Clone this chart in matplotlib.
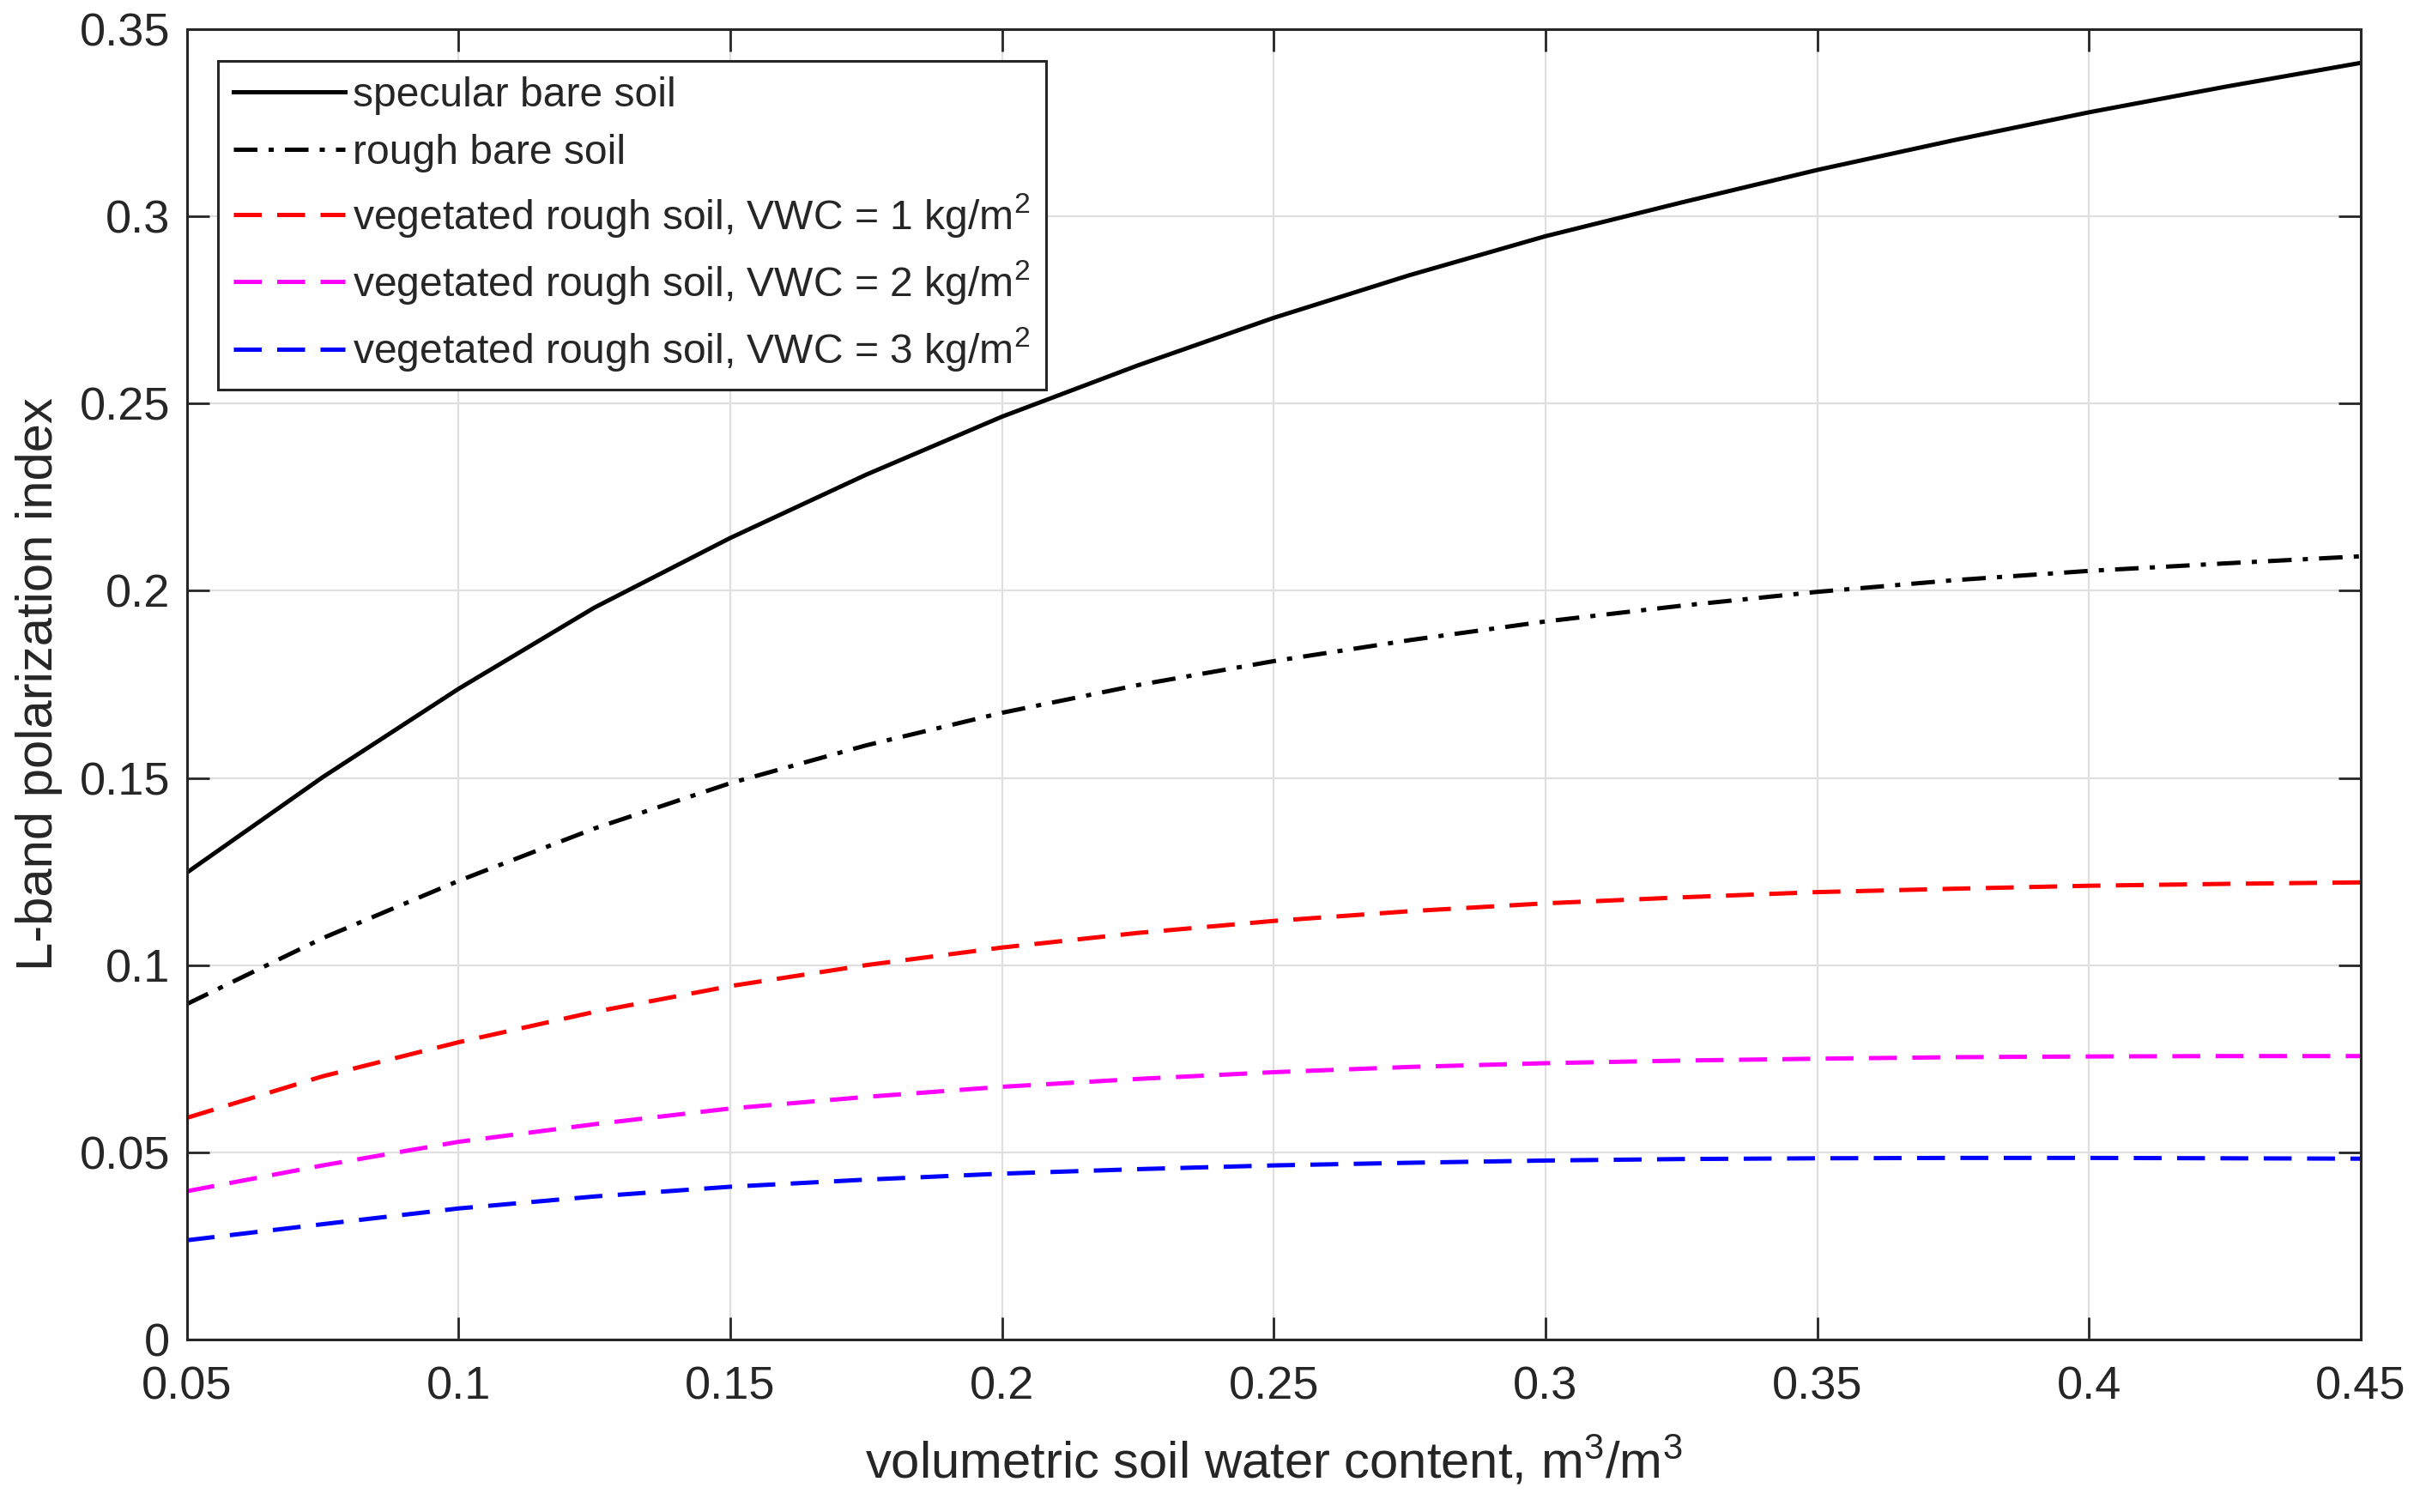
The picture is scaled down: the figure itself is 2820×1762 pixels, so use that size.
import matplotlib
matplotlib.use("Agg")
import matplotlib.pyplot as plt

plt.rcParams['font.family'] = ['Liberation Sans', 'DejaVu Sans']
plt.rcParams['mathtext.default'] = 'regular'

# soil moisture (m3/m3)
sm = [0.05, 0.075, 0.1, 0.125, 0.15, 0.175, 0.2, 0.225, 0.25, 0.275,
      0.3, 0.325, 0.35, 0.375, 0.4, 0.425, 0.45]

# polarization index
specular = [0.1247, 0.1502, 0.1738, 0.1955, 0.2141, 0.2310, 0.2465, 0.2602, 0.2729,
            0.2843, 0.2947, 0.3037, 0.3124, 0.3203, 0.3278, 0.3346, 0.3410]
rough = [0.0896, 0.1072, 0.1225, 0.1365, 0.1486, 0.1587, 0.1674, 0.1748, 0.1812,
         0.1868, 0.1918, 0.1960, 0.1997, 0.2028, 0.2053, 0.2073, 0.2092]
veg1 = [0.0592, 0.0703, 0.0794, 0.0875, 0.0944, 0.1000, 0.1047, 0.1086, 0.1118,
        0.1144, 0.1165, 0.1181, 0.1195, 0.1204, 0.1212, 0.1217, 0.1221]
veg2 = [0.0396, 0.0465, 0.0528, 0.0575, 0.0617, 0.0648, 0.0675, 0.0696, 0.0714,
        0.0728, 0.0738, 0.0745, 0.0750, 0.0754, 0.0756, 0.0757, 0.0757]
veg3 = [0.0265, 0.0308, 0.0350, 0.0382, 0.0408, 0.0427, 0.0443, 0.0455, 0.0465,
        0.0472, 0.0478, 0.0482, 0.0484, 0.0485, 0.0485, 0.0484, 0.0483]

labels = ['specular bare soil',
          'rough bare soil',
          'vegetated rough soil, VWC = 1 kg/m$^2$',
          'vegetated rough soil, VWC = 2 kg/m$^2$',
          'vegetated rough soil, VWC = 3 kg/m$^2$']

xticks = [0.05, 0.1, 0.15, 0.2, 0.25, 0.3, 0.35, 0.4, 0.45]
xticklabels = ['0.05', '0.1', '0.15', '0.2', '0.25', '0.3', '0.35', '0.4', '0.45']
yticks = [0, 0.05, 0.1, 0.15, 0.2, 0.25, 0.3, 0.35]
yticklabels = ['0', '0.05', '0.1', '0.15', '0.2', '0.25', '0.3', '0.35']

fig = plt.figure(figsize=(14.1, 8.81), dpi=200)
ax = fig.add_axes([0.0772, 0.1141, 0.8983, 0.8666])

lw = 1.8
ax.plot(sm, specular, color='black', lw=lw, ls='-', label=labels[0])
ax.plot(sm, rough, color='black', lw=lw, ls=(0, (5.5, 2.6, 1.2, 2.6)), label=labels[1])
ax.plot(sm, veg1, color='#ff0000', lw=lw, ls=(0, (6.5, 3.6)), label=labels[2])
ax.plot(sm, veg2, color='#ff00ff', lw=lw, ls=(0, (6.5, 3.6)), label=labels[3])
ax.plot(sm, veg3, color='#0000ff', lw=lw, ls=(0, (6.5, 3.6)), label=labels[4])

ax.set_xlim(0.05, 0.45)
ax.set_ylim(0, 0.35)
ax.set_xticks(xticks)
ax.set_xticklabels(xticklabels)
ax.set_yticks(yticks)
ax.set_yticklabels(yticklabels)

ax.grid(True, color='#dfdfdf', lw=0.8)
ax.set_axisbelow(True)
for s in ax.spines.values():
    s.set_color('#262626')
    s.set_linewidth(1.1)
ax.tick_params(direction='in', length=9.5, width=1.0, color='#262626',
               labelcolor='#262626', labelsize=19.5, top=True, right=True)
ax.tick_params(axis='x', pad=11)
ax.tick_params(axis='y', pad=7)

ax.set_xlabel('volumetric soil water content, m$^3$/m$^3$', fontsize=21.5,
              color='#262626', labelpad=11)
ax.set_ylabel('L-band polarization index', fontsize=21.5, color='#262626', labelpad=7)

leg = ax.legend(loc='upper left', bbox_to_anchor=(0.0142, 0.976), fontsize=17.3,
                handlelength=2.7, handletextpad=0.2, borderaxespad=0,
                borderpad=0.38, labelspacing=0.46, fancybox=False,
                framealpha=1, edgecolor='#262626')
leg.get_frame().set_linewidth(1.1)
for t in leg.get_texts():
    t.set_color('#262626')

fig.savefig('out.png', dpi=200)
